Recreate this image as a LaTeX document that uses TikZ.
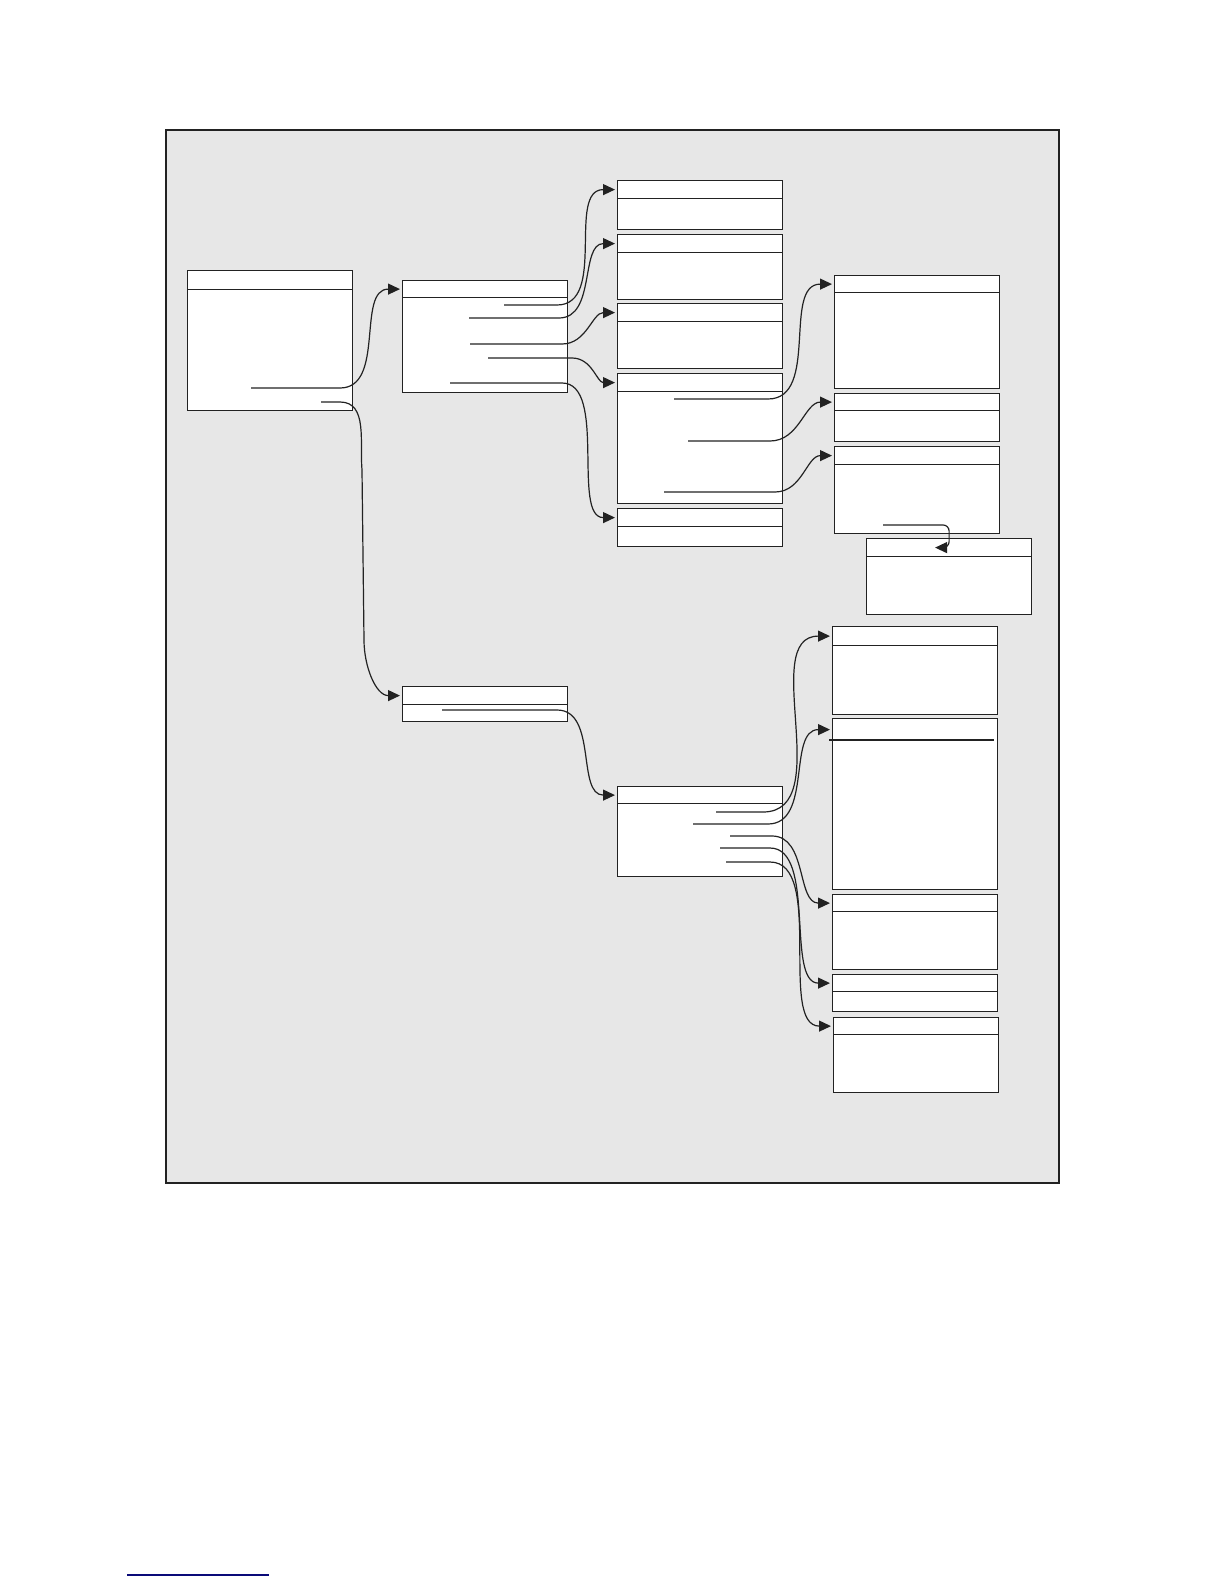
\documentclass[tikz,border=0pt]{standalone}
\usetikzlibrary{arrows.meta}
\definecolor{paneel}{RGB}{231,231,231}
\definecolor{lijn}{RGB}{34,34,34}
\definecolor{onderlijn}{RGB}{10,10,120}
\begin{document}
\begin{tikzpicture}[x=0.5pt,y=-0.5pt,klasse/.style={shape=rectangle,draw=lijn,line width=0.6pt,fill=white,anchor=north west,inner sep=0pt,minimum width=82.5pt,minimum height=#1},kop/.style={klasse=9pt},verwijst/.style={draw=lijn,line width=0.6pt,-{Triangle[length=6pt,width=5.5pt]},shorten >=1pt}]
\useasboundingbox (0,0) rectangle (1224,1584);
\draw[lijn,line width=0.6pt,fill=paneel] (166,130) rectangle (1059,1183);
% linker kolom
\node[klasse=70pt] (A) at (187,270) {};
\node[klasse=9.5pt] (Ak) at (187,270) {};
\node[klasse=56pt] (B) at (402,280) {};
\node[klasse=8.5pt] (Bk) at (402,280) {};
\node[klasse=17.5pt] (F) at (402,686) {};
\node[kop] (Fk) at (402,686) {};
% middelste kolom
\node[klasse=24.5pt] (C1) at (617,180) {};
\node[kop] (C1k) at (617,180) {};
\node[klasse=32.5pt] (C2) at (617,234) {};
\node[kop] (C2k) at (617,234) {};
\node[klasse=32.5pt] (C3) at (617,303) {};
\node[kop] (C3k) at (617,303) {};
\node[klasse=65pt] (C4) at (617,373) {};
\node[kop] (C4k) at (617,373) {};
\node[klasse=19pt] (C5) at (617,508) {};
\node[kop] (C5k) at (617,508) {};
\node[klasse=45pt] (G) at (617,786) {};
\node[klasse=8.5pt] (Gk) at (617,786) {};
% rechter kolom
\node[klasse=56.5pt] (D1) at (834,275) {};
\node[klasse=8.5pt] (D1k) at (834,275) {};
\node[klasse=24pt] (D2) at (834,393) {};
\node[klasse=8.5pt] (D2k) at (834,393) {};
\node[klasse=43.5pt] (D3) at (834,446) {};
\node[kop] (D3k) at (834,446) {};
\node[klasse=38pt] (E) at (866,538) {};
\node[kop] (Ek) at (866,538) {};
\node[klasse=44pt] (H1) at (832,626) {};
\node[klasse=9.5pt] (H1k) at (832,626) {};
\node[klasse=85.5pt] (H2) at (832,718) {};
\node[klasse=11pt,draw=none,fill=none] (H2k) at (832,718) {};
\draw[lijn,line width=0.6pt] (829,740) -- (994,740);
\node[klasse=37.5pt] (H3) at (832,894) {};
\node[klasse=8.5pt] (H3k) at (832,894) {};
\node[klasse=18.5pt] (H4) at (832,974) {};
\node[klasse=8.5pt] (H4k) at (832,974) {};
\node[klasse=37.5pt] (H5) at (833,1017) {};
\node[klasse=8.5pt] (H5k) at (833,1017) {};
% beginpunten van de verwijzingen
\coordinate (a1) at (251,388);
\coordinate (a2) at (321,402);
\coordinate (b1) at (504,305);
\coordinate (b2) at (469,318);
\coordinate (b3) at (470,344);
\coordinate (b4) at (488,358);
\coordinate (b5) at (450,383);
\coordinate (c1) at (674,399);
\coordinate (c2) at (688,441);
\coordinate (c3) at (664,492);
\coordinate (d1) at (883,525);
\coordinate (f1) at (442,710);
\coordinate (g1) at (716,812);
\coordinate (g2) at (693,824);
\coordinate (g3) at (730,836);
\coordinate (g4) at (720,848);
\coordinate (g5) at (726,862);
\draw[verwijst] (a1) -- ++(89,0) to[out=0,in=180] (Bk.west);
\draw[verwijst] (a2) -- ++(19,0) to[out=0,in=95] ++(22,68) -- ++(2,170) to[out=-90,in=180] (Fk.west);
\draw[verwijst] (b1) -- ++(53,0) to[out=0,in=180] (C1k.west);
\draw[verwijst] (b2) -- ++(90,0) to[out=0,in=180] (C2k.west);
\draw[verwijst] (b3) -- ++(92,0) to[out=0,in=180] (C3k.west);
\draw[verwijst] (b4) -- ++(84,0) to[out=0,in=180] (C4k.west);
\draw[verwijst] (b5) -- ++(112,0) to[out=0,in=180,looseness=0.8] (C5k.west);
\draw[verwijst] (c1) -- ++(94,0) to[out=0,in=180] (D1k.west);
\draw[verwijst] (c2) -- ++(82,0) to[out=0,in=180] (D2k.west);
\draw[verwijst] (c3) -- ++(111,0) to[out=0,in=180] (D3k.west);
\draw[verwijst,shorten >=0pt,rounded corners=3pt] (d1) -| (Ek.center) -- ++(-14,0);
\draw[verwijst] (f1) -- ++(115,0) to[out=0,in=180] (Gk.west);
\draw[verwijst] (g1) -- ++(47,0) to[out=0,in=180] (H1k.west);
\draw[verwijst] (g2) -- ++(75,0) to[out=0,in=180] (H2k.west);
\draw[verwijst] (g3) -- ++(42,0) to[out=0,in=180] (H3k.west);
\draw[verwijst] (g4) -- ++(50,0) to[out=0,in=180,looseness=0.8] (H4k.west);
\draw[verwijst] (g5) -- ++(44,0) to[out=0,in=180,looseness=0.8] (H5k.west);
\draw[onderlijn,line width=0.6pt] (127,1575) -- (269,1575);
\end{tikzpicture}
\end{document}
